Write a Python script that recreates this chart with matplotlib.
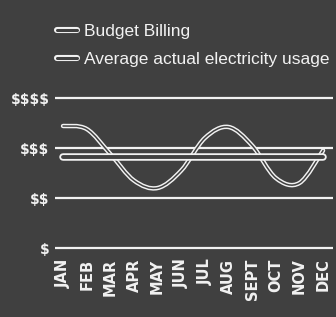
import matplotlib
matplotlib.use("Agg")
import matplotlib.pyplot as plt
import matplotlib.patheffects as pe
from matplotlib.path import Path
from matplotlib.patches import PathPatch
from matplotlib.lines import Line2D
import numpy as np

months = ["JAN", "FEB", "MAR", "APR", "MAY", "JUN", "JUL", "AUG", "SEPT", "OCT", "NOV", "DEC"]
average_usage = [3.44, 3.38, 2.88, 2.35, 2.20, 2.55, 3.20, 3.42, 3.05, 2.40, 2.30, 2.95]
budget_billing = [2.82] * 12
level_values = [1, 2, 3, 4]
level_labels = [r"\$", r"\$\$", r"\$\$\$", r"\$\$\$\$"]

BG = "#404040"
FG = "#f2f2f2"
W, H = 336, 317

fig = plt.figure(figsize=(W / 100, H / 100), dpi=100, facecolor=BG)
ax = fig.add_axes([55 / W, 1 - 253 / H, (333 - 55) / W, (253 - 93) / H])
ax.set_facecolor(BG)
for s in ax.spines.values():
    s.set_visible(False)

x = np.arange(len(months))
ax.set_xlim(-0.34, 11.42)
ax.set_ylim(0.9, 4.1)

# grid lines
for v in level_values:
    ax.axhline(v, color=FG, lw=1.6, zorder=1)

# smooth path through the monthly values (Catmull-Rom -> cubic Bezier)
pts = np.column_stack([x, average_usage]).astype(float)
verts = [tuple(pts[0])]
codes = [Path.MOVETO]
for i in range(len(pts) - 1):
    p0 = pts[i - 1] if i > 0 else pts[i]
    p1 = pts[i]
    p2 = pts[i + 1]
    p3 = pts[i + 2] if i + 2 < len(pts) else pts[i + 1]
    c1 = p1 + (p2 - p0) / 6
    c2 = p2 - (p3 - p1) / 6
    verts += [tuple(c1), tuple(c2), tuple(p2)]
    codes += [Path.CURVE4] * 3
wave = PathPatch(Path(verts, codes), fill=False, edgecolor=BG, lw=1.1, zorder=3,
                 capstyle="round", joinstyle="round",
                 path_effects=[pe.Stroke(linewidth=3.2, foreground=FG), pe.Normal()])
ax.add_patch(wave)

budget_pe = [pe.Stroke(linewidth=5.4, foreground=FG, capstyle="round"), pe.Normal()]
ax.plot(x, budget_billing, color=BG, lw=2.8, solid_capstyle="round", zorder=4,
        path_effects=budget_pe)

ax.set_yticks(level_values)
ax.set_yticklabels(level_labels)
ax.set_xticks(x)
ax.set_xticklabels(months, rotation=90)
ax.tick_params(axis="both", length=0, colors=FG)
for lab in ax.get_yticklabels():
    lab.set_fontweight("bold")
    lab.set_fontsize(10)
    lab.set_family(["DejaVu Sans"])
ax.tick_params(axis="y", pad=4)
ax.tick_params(axis="x", pad=4)
for lab in ax.get_xticklabels():
    lab.set_fontweight("bold")
    lab.set_fontsize(10.5)
    lab.set_family(["DejaVu Sans"])

handles = [
    Line2D([0], [0], color=BG, lw=2.2, solid_capstyle="round",
           path_effects=[pe.Stroke(linewidth=4.4, foreground=FG, capstyle="round"), pe.Normal()]),
    Line2D([0], [0], color=BG, lw=2.2, solid_capstyle="round",
           path_effects=[pe.Stroke(linewidth=4.4, foreground=FG, capstyle="round"), pe.Normal()]),
]
leg = ax.legend(handles, ["Budget Billing", "Average actual electricity usage"],
                loc="upper left", bbox_to_anchor=(57 / W, 1 - 24 / H),
                bbox_transform=fig.transFigure, frameon=False,
                handlelength=1.15, handletextpad=0.4, labelspacing=0.72,
                borderpad=0, borderaxespad=0,
                prop={"family": ["Liberation Sans", "DejaVu Sans"], "size": 12.5})
for t in leg.get_texts():
    t.set_color(FG)

fig.savefig("out.png", dpi=100, facecolor=BG)
